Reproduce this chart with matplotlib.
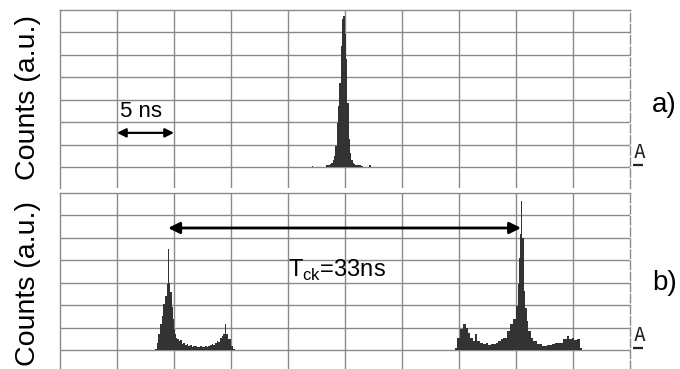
import numpy as np
import matplotlib.pyplot as plt

plt.rcParams['font.family'] = ['Liberation Sans', 'DejaVu Sans']
plt.rcParams['mathtext.fontset'] = 'custom'
plt.rcParams['mathtext.rm'] = 'Liberation Sans'

# --- data (time in ns, counts in grid divisions) ---
# a) single narrow peak
t_a = [22.10, 22.22, 23.33, 23.45, 23.57, 23.68, 23.80, 23.92, 24.04, 24.15,
       24.27, 24.39, 24.50, 24.62, 24.74, 24.85, 24.97, 25.09, 25.20, 25.32,
       25.44, 25.56, 25.67, 25.79, 25.91, 26.02, 26.14, 26.26, 26.37, 26.49,
       26.61, 27.13, 27.28]
c_a = [0.06, 0.0, 0.07, 0.07, 0.10, 0.13, 0.19, 0.31, 0.49, 0.94,
       1.98, 2.72, 3.76, 5.40, 6.59, 6.74, 5.92, 4.81, 2.87, 1.24,
       0.64, 0.31, 0.19, 0.13, 0.10, 0.07, 0.07, 0.07, 0.04, 0.04,
       0.0, 0.07, 0.0]

# b) two clock periods, left group
t_b1 = [8.33, 8.48, 8.63, 8.77, 8.92, 9.06, 9.21, 9.36, 9.44, 9.49,
        9.56, 9.68, 9.80, 9.90, 9.97, 10.08, 10.15, 10.29, 10.44, 10.55,
        10.67, 10.80, 10.96, 11.10, 11.26, 11.40, 11.55, 11.70, 11.84, 11.98,
        12.13, 12.28, 12.43, 12.58, 12.72, 12.86, 13.01, 13.15, 13.30, 13.45,
        13.60, 13.74, 13.90, 14.04, 14.20, 14.33, 14.47, 14.53, 14.59, 14.77,
        15.00, 15.20, 15.35]
c_b1 = [0.05, 0.33, 0.70, 1.15, 1.52, 2.04, 2.41, 2.93, 3.05, 4.49,
        3.00, 2.60, 1.90, 1.37, 0.92, 0.70, 0.55, 0.48, 0.40, 0.45,
        0.28, 0.32, 0.22, 0.26, 0.18, 0.21, 0.13, 0.17, 0.16, 0.12,
        0.12, 0.18, 0.15, 0.11, 0.18, 0.14, 0.16, 0.22, 0.25, 0.20,
        0.30, 0.40, 0.35, 0.55, 0.62, 0.70, 1.15, 0.90, 0.70, 0.48,
        0.18, 0.05, 0.0]

# b) right group
t_b2 = [34.65, 34.80, 35.09, 35.38, 35.59, 35.76, 35.96, 36.26, 36.40, 36.55,
        36.84, 37.13, 37.35, 37.57, 37.80, 38.01, 38.23, 38.45, 38.67, 38.89,
        39.18, 39.47, 39.77, 39.97, 40.15, 40.26, 40.38, 40.44, 40.50, 40.56,
        40.67, 40.79, 40.94, 41.08, 41.32, 41.52, 41.81, 42.25, 42.70, 43.13,
        43.40, 43.71, 44.15, 44.44, 44.65, 44.88, 45.10, 45.32, 45.61, 45.76]
c_b2 = [0.10, 0.55, 0.92, 1.15, 1.00, 0.77, 0.55, 0.40, 0.70, 0.40,
        0.30, 0.25, 0.30, 0.22, 0.27, 0.28, 0.33, 0.40, 0.48, 0.55,
        0.85, 1.15, 1.37, 1.96, 2.93, 4.12, 5.16, 6.65, 5.60, 5.00,
        2.63, 1.89, 1.29, 0.85, 0.55, 0.40, 0.25, 0.18, 0.22, 0.25,
        0.30, 0.33, 0.48, 0.62, 0.48, 0.55, 0.45, 0.48, 0.10, 0.0]

grid_c = '#8a8a8a'
fill_c = '#333333'

fig = plt.figure(figsize=(6.8, 3.69), dpi=100)
ax_a = fig.add_axes([60/680, 1 - 188/369, 570/680, 178/369])
ax_b = fig.add_axes([60/680, 0.0, 570/680, 176/369])


def scope_axes(ax, ybot):
    ax.set_xlim(0, 50)
    ax.set_ylim(ybot, 7)
    ax.set_xticks(np.arange(5, 50, 5))
    ax.set_yticks(np.arange(0, 7, 1))
    ax.tick_params(length=0, labelbottom=False, labelleft=False)
    ax.grid(True, color=grid_c, lw=1.0)
    ax.set_axisbelow(True)
    ax.spines['bottom'].set_visible(False)
    for s in ['top', 'left', 'right']:
        ax.spines[s].set_color(grid_c)
        ax.spines[s].set_linewidth(1.0)
    ax.spines['right'].set_linestyle((0, (6, 2)))
    # channel marker
    ax.text(50.3, 0.22, 'A', fontsize=14, family='DejaVu Sans Mono',
            color='#222222', ha='left', va='bottom', clip_on=False)
    ax.plot([50.3, 51.1], [0.09, 0.09], color='#222222', lw=1.6,
            clip_on=False, solid_capstyle='butt')


scope_axes(ax_a, -0.94)
scope_axes(ax_b, -0.85)

ax_a.fill_between(t_a, 0, c_a, step='post', color=fill_c, lw=0)
ax_b.fill_between(t_b1, 0, c_b1, step='post', color=fill_c, lw=0)
ax_b.fill_between(t_b2, 0, c_b2, step='post', color=fill_c, lw=0)

# 5 ns scale arrow
arr = dict(arrowstyle='<|-|>', color='black', lw=1.6, mutation_scale=13,
           shrinkA=0, shrinkB=0)
ax_a.annotate('', xy=(10, 1.52), xytext=(5, 1.52), arrowprops=arr)
ax_a.text(5.25, 2.23, '5 ns', fontsize=16, va='baseline', ha='left')

# clock period arrow between the two main spikes
p1 = t_b1[int(np.argmax(c_b1))]
p2 = t_b2[int(np.argmax(c_b2))]
arr2 = dict(arrowstyle='<|-|>', color='black', lw=2.0, mutation_scale=17,
            shrinkA=0, shrinkB=0)
ax_b.annotate('', xy=(p2, 5.44), xytext=(p1, 5.44), arrowprops=arr2)
ax_b.text(20.0, 3.25, r'T$_{\mathrm{ck}}$=33ns', fontsize=17,
          va='baseline', ha='left')

fig.text(28/680, 1 - 97/369, 'Counts (a.u.)', rotation=90, fontsize=20.5,
         ha='center', va='center')
fig.text(28/680, 1 - 284/369, 'Counts (a.u.)', rotation=90, fontsize=20.5,
         ha='center', va='center')
fig.text(652/680, 1 - 105/369, 'a)', fontsize=20, ha='left', va='center')
fig.text(652/680, 1 - 283/369, 'b)', fontsize=20, ha='left', va='center')

fig.savefig('out.png', dpi=100)
